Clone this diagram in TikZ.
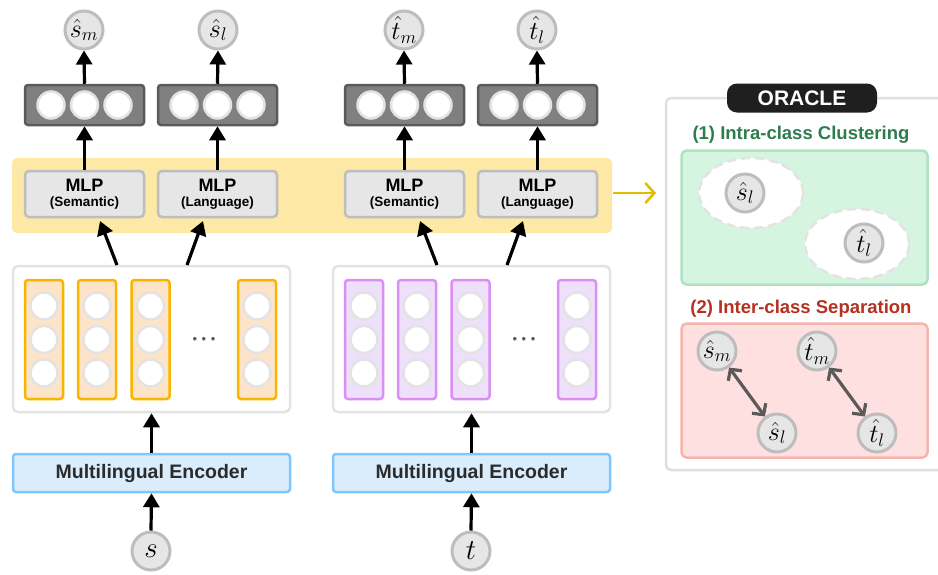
\RequirePackage{fix-cm}
\documentclass[tikz,border=0pt]{standalone}
\usepackage{fontspec}
\setmainfont{Liberation Sans}
\usetikzlibrary{arrows.meta,shapes.geometric}
\definecolor{cband}{HTML}{FDE8A6}
\definecolor{cyarr}{HTML}{E3BC00}
\definecolor{cemb}{HTML}{E3E3E3}
\definecolor{corfill}{HTML}{FDE4C8}
\definecolor{cordraw}{HTML}{F7B500}
\definecolor{cpufill}{HTML}{EEDFFB}
\definecolor{cpudraw}{HTML}{D990F2}
\definecolor{cblfill}{HTML}{DAEDFD}
\definecolor{cbldraw}{HTML}{7EC6FC}
\definecolor{cgrfill}{HTML}{D6F5E0}
\definecolor{cgrdraw}{HTML}{AEE2C3}
\definecolor{cgrtext}{HTML}{2E7D4E}
\definecolor{crefill}{HTML}{FFE0E0}
\definecolor{credraw}{HTML}{F7B4AE}
\definecolor{cretext}{HTML}{B53120}
\definecolor{corabox}{HTML}{E0E0E0}
\definecolor{cdark}{HTML}{808080}
\definecolor{cdarkb}{HTML}{5A5A5A}
\definecolor{cgcirc}{HTML}{E6E6E6}
\definecolor{cgcircb}{HTML}{BDBDBD}
\definecolor{ctext}{HTML}{2B2B2B}
\definecolor{cdarr}{HTML}{5A5A5A}
\tikzset{
  outc/.style={circle,minimum size=38pt,inner sep=0pt,fill=cgcirc,draw=cgcircb,line width=3pt,font=\fontsize{26}{30}\selectfont},
  darkbox/.style={rounded corners=3pt,fill=cdark,draw=cdarkb,line width=2.5pt,minimum width=119pt,minimum height=40pt,inner sep=0pt},
  wcirc/.style={circle,minimum size=27pt,inner sep=0pt,fill=white,draw=cemb,line width=2.5pt},
  mlpbox/.style={rounded corners=4pt,fill=cgcirc,draw=cgcircb,line width=2.5pt,minimum width=119pt,minimum height=46pt,inner sep=0pt,align=center,text=black},
  colbox/.style={rounded corners=3pt,line width=2.5pt,minimum width=38pt,minimum height=119pt,inner sep=0pt},
  embbox/.style={rounded corners=5pt,fill=white,draw=cemb,line width=2.5pt,minimum width=277pt,minimum height=146pt,inner sep=0pt},
  encbox/.style={rounded corners=3pt,fill=cblfill,draw=cbldraw,line width=2.5pt,minimum width=277pt,minimum height=38pt,inner sep=0pt,font=\fontsize{19.5}{22}\selectfont\bfseries,text=ctext},
  arr/.style={line width=3.2pt,-{Triangle[width=16pt,length=14pt]}},
  darr/.style={line width=3.2pt,draw=cdarr,{Straight Barb[length=8pt,width=17pt]}-{Straight Barb[length=8pt,width=17pt]}},
  dell/.style={ellipse,minimum width=104pt,minimum height=70pt,fill=white,draw=cemb,line width=2.5pt,dash pattern=on 9pt off 5pt},
  dotsn/.style={text=cdarkb,font=\fontsize{13}{13}\selectfont},
}
\newcommand{\mlptext}[1]{{\fontsize{18}{20}\selectfont\bfseries MLP}\\[3pt]{\fontsize{13.5}{15}\selectfont\bfseries (#1)}}
\newcommand{\threedots}{\textbullet\hspace{4.5pt}\textbullet\hspace{4.5pt}\textbullet}
\begin{document}
\begin{tikzpicture}[x=1pt,y=-1pt]
\useasboundingbox (0,0) rectangle (938,574);
% yellow band
\node[rounded corners=5pt,fill=cband,minimum width=600pt,minimum height=75pt,inner sep=0pt] (band) at (312,195.5) {};
% MLP boxes
\node[mlpbox] (mlp1) at (84.5,194) {\mlptext{Semantic}};
\node[mlpbox] (mlp2) at (217.5,194) {\mlptext{Language}};
\node[mlpbox] (mlp3) at (404.5,194) {\mlptext{Semantic}};
\node[mlpbox] (mlp4) at (537.5,194) {\mlptext{Language}};
% dark boxes
\foreach \n/\x in {1/84.5,2/217.5,3/404.5,4/537.5}{
  \node[darkbox] (db\n) at (\x,105) {};
  \node[wcirc] (db\n a) at (\x-33.5,105) {};
  \node[wcirc] (db\n b) at (\x,105) {};
  \node[wcirc] (db\n c) at (\x+33.5,105) {};
}
% output circles
\node[outc] (o1) at (84,30) {$\hat{s}_m$};
\node[outc] (o2) at (218,30) {$\hat{s}_l$};
\node[outc] (o3) at (404,30) {$\hat{t}_m$};
\node[outc] (o4) at (537,30) {$\hat{t}_l$};
\foreach \n in {1,2,3,4}{
  \draw[arr] (db\n.north) -- (o\n.south);
  \draw[arr] (mlp\n.north) -- (db\n.south);
}
% embedding boxes
\node[embbox] (emb1) at (151.5,339) {};
\node[embbox] (emb2) at (471.5,339) {};
\foreach \n/\x in {1/44,2/97,3/150.5,4/257}{
  \node[colbox,fill=corfill,draw=cordraw] (lc\n) at (\x,339.5) {};
  \foreach \k/\y in {a/306,b/339.5,c/373}{\node[wcirc] (lc\n\k) at (\x,\y) {};}
}
\foreach \n/\x in {1/364,2/417,3/470.5,4/577}{
  \node[colbox,fill=cpufill,draw=cpudraw] (rc\n) at (\x,339.5) {};
  \foreach \k/\y in {a/306,b/339.5,c/373}{\node[wcirc] (rc\n\k) at (\x,\y) {};}
}
\node[dotsn] (dots1) at (204,340) {\threedots};
\node[dotsn] (dots2) at (524,340) {\threedots};
% diagonal arrows
\coordinate (e1l) at (117,265);
\coordinate (e1r) at (187,265);
\coordinate (e2l) at (437,265);
\coordinate (e2r) at (507,265);
\coordinate (m1t) at (100,221);
\coordinate (m2t) at (203,221);
\coordinate (m3t) at (420,221);
\coordinate (m4t) at (523,221);
\draw[arr] (e1l) -- (m1t);
\draw[arr] (e1r) -- (m2t);
\draw[arr] (e2l) -- (m3t);
\draw[arr] (e2r) -- (m4t);
% encoders
\node[encbox] (enc1) at (151.5,473) {Multilingual Encoder};
\node[encbox] (enc2) at (471.5,473) {Multilingual Encoder};
\draw[arr] (enc1.north) -- (emb1.south);
\draw[arr] (enc2.north) -- (emb2.south);
\node[outc,font=\fontsize{29}{32}\selectfont] (s) at (151,551) {$s$};
\node[outc,font=\fontsize{29}{32}\selectfont] (t) at (471,551) {$t$};
\draw[arr] (s.north) -- (enc1.south);
\draw[arr] (t.north) -- (enc2.south);
% yellow arrow
\coordinate (ya) at (613,193);
\coordinate (yb) at (656,193);
\draw[line width=2.5pt,draw=cyarr,-{Straight Barb[length=9pt,width=20pt]}] (ya) -- (yb);
% oracle
\node[rounded corners=5pt,fill=white,draw=corabox,line width=2.5pt,minimum width=285pt,minimum height=372pt,inner sep=0pt] (orc) at (808.5,284) {};
\node[rounded corners=10pt,fill=black!88,minimum width=150pt,minimum height=29pt,inner sep=0pt,text=white,font=\fontsize{21}{23}\selectfont\bfseries] (orl) at (802,98) {ORACLE};
\node[text=cgrtext,font=\fontsize{18.5}{20}\selectfont\bfseries] (t1) at (801,135) {(1) Intra-class Clustering};
\node[rounded corners=5pt,fill=cgrfill,draw=cgrdraw,line width=2.5pt,minimum width=246pt,minimum height=134pt,inner sep=0pt] (gbox) at (804.5,217.5) {};
\node[dell] (el1) at (751,193) {};
\node[dell] (el2) at (857,244) {};
\node[outc] (g1) at (745,193) {$\hat{s}_l$};
\node[outc] (g2) at (864,243) {$\hat{t}_l$};
\node[text=cretext,font=\fontsize{18.5}{20}\selectfont\bfseries] (t2) at (801,309) {(2) Inter-class Separation};
\node[rounded corners=5pt,fill=crefill,draw=credraw,line width=2.5pt,minimum width=246pt,minimum height=134pt,inner sep=0pt] (rbox) at (804.5,390.5) {};
\node[outc] (r1) at (717,351) {$\hat{s}_m$};
\node[outc] (r2) at (777,433) {$\hat{s}_l$};
\node[outc] (r3) at (817,351) {$\hat{t}_m$};
\node[outc] (r4) at (877,433) {$\hat{t}_l$};
\draw[darr] (r1) -- (r2);
\draw[darr] (r3) -- (r4);
\end{tikzpicture}
\end{document}
